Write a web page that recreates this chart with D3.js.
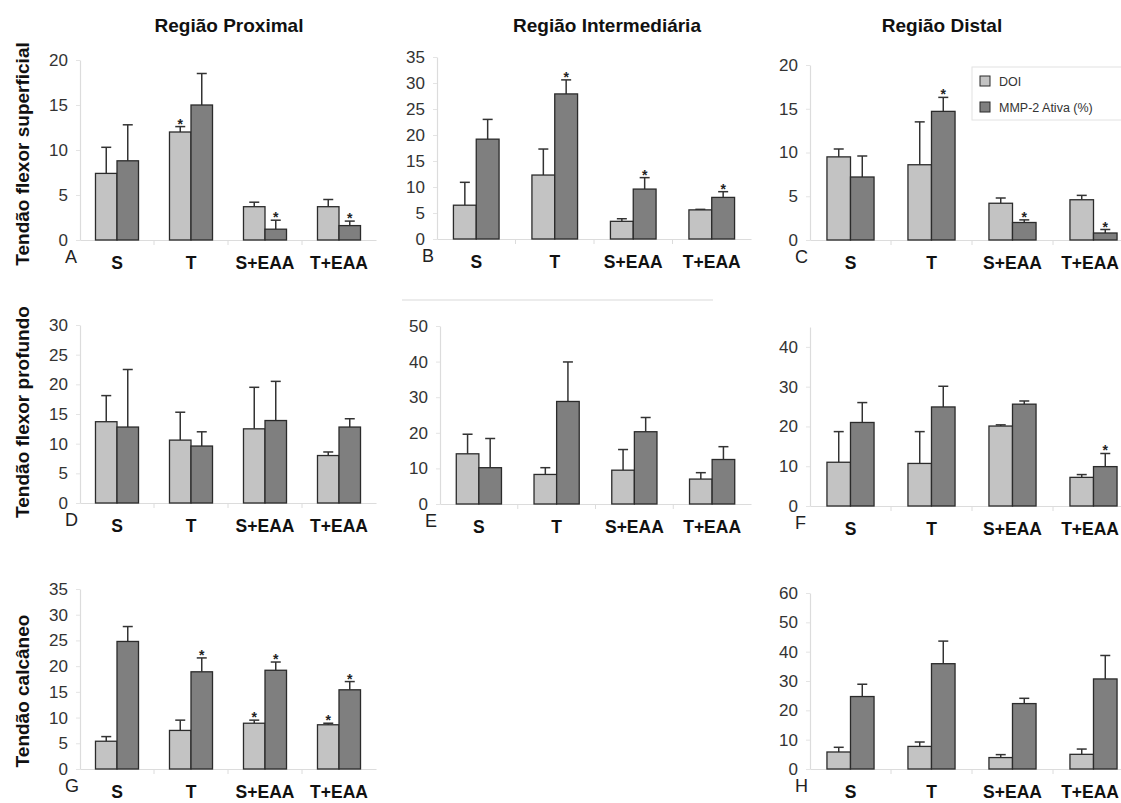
<!DOCTYPE html>
<html>
<head>
<meta charset="utf-8">
<script src="https://cdn.jsdelivr.net/npm/d3@7"></script>
<style>
  body { margin: 0; background: #fff; }
  svg { display: block; font-family: "Liberation Sans", Arial, sans-serif; }
</style>
</head>
<body>
<svg id="chart" width="1121" height="803"></svg>
<script>
const categories = ['S', 'T', 'S+EAA', 'T+EAA'];
const seriesNames = ['DOI', 'MMP-2 Ativa (%)'];

// A - flexor superficial, proximal
const doiA = [7.4, 12.0, 3.7, 3.7];
const doiErrA = [10.3, 12.6, 4.2, 4.5];
const mmpA = [8.8, 15.0, 1.2, 1.6];
const mmpErrA = [12.8, 18.5, 2.2, 2.1];
const starsA = [[0, 0], [1, 0], [0, 1], [0, 1]];

// B - flexor superficial, intermediaria
const doiB = [6.5, 12.3, 3.4, 5.6];
const doiErrB = [10.9, 17.3, 3.9, 5.7];
const mmpB = [19.2, 27.9, 9.6, 8.0];
const mmpErrB = [23.0, 30.6, 11.8, 9.1];
const starsB = [[0, 0], [0, 1], [0, 1], [0, 1]];

// C - flexor superficial, distal
const doiC = [9.5, 8.6, 4.2, 4.6];
const doiErrC = [10.4, 13.5, 4.8, 5.1];
const mmpC = [7.2, 14.7, 2.0, 0.8];
const mmpErrC = [9.6, 16.3, 2.3, 1.2];
const starsC = [[0, 0], [0, 1], [0, 1], [0, 1]];

// D - flexor profundo, proximal
const doiD = [13.7, 10.6, 12.5, 8.0];
const doiErrD = [18.1, 15.3, 19.5, 8.6];
const mmpD = [12.8, 9.6, 13.9, 12.8];
const mmpErrD = [22.5, 12.0, 20.5, 14.2];
const starsD = [[0, 0], [0, 0], [0, 0], [0, 0]];

// E - flexor profundo, intermediaria
const doiE = [14.1, 8.3, 9.5, 7.0];
const doiErrE = [19.6, 10.2, 15.3, 8.8];
const mmpE = [10.2, 28.8, 20.3, 12.5];
const mmpErrE = [18.4, 39.9, 24.3, 16.1];
const starsE = [[0, 0], [0, 0], [0, 0], [0, 0]];

// F - flexor profundo, distal
const doiF = [11.0, 10.7, 20.1, 7.2];
const doiErrF = [18.7, 18.7, 20.4, 7.9];
const mmpF = [21.0, 24.9, 25.6, 9.9];
const mmpErrF = [26.0, 30.1, 26.4, 13.2];
const starsF = [[0, 0], [0, 0], [0, 0], [0, 1]];

// G - calcaneo, proximal
const doiG = [5.4, 7.5, 8.9, 8.6];
const doiErrG = [6.3, 9.5, 9.5, 8.9];
const mmpG = [24.8, 18.9, 19.2, 15.4];
const mmpErrG = [27.7, 21.6, 20.8, 17.0];
const starsG = [[0, 0], [0, 1], [1, 1], [1, 1]];

// H - calcaneo, distal
const doiH = [5.8, 7.7, 3.9, 5.0];
const doiErrH = [7.4, 9.2, 4.9, 6.8];
const mmpH = [24.7, 35.9, 22.3, 30.7];
const mmpErrH = [28.9, 43.6, 24.1, 38.7];
const starsH = [[0, 0], [0, 0], [0, 0], [0, 0]];

const colTitles = ['Região Proximal', 'Região Intermediária', 'Região Distal'];
const rowTitles = ['Tendão flexor superficial', 'Tendão flexor profundo', 'Tendão calcâneo'];

const panels = [
  { id: 'A', doi: doiA, doiErr: doiErrA, mmp: mmpA, mmpErr: mmpErrA, stars: starsA, max: 20, step: 5 },
  { id: 'B', doi: doiB, doiErr: doiErrB, mmp: mmpB, mmpErr: mmpErrB, stars: starsB, max: 35, step: 5 },
  { id: 'C', doi: doiC, doiErr: doiErrC, mmp: mmpC, mmpErr: mmpErrC, stars: starsC, max: 20, step: 5 },
  { id: 'D', doi: doiD, doiErr: doiErrD, mmp: mmpD, mmpErr: mmpErrD, stars: starsD, max: 30, step: 5 },
  { id: 'E', doi: doiE, doiErr: doiErrE, mmp: mmpE, mmpErr: mmpErrE, stars: starsE, max: 50, step: 10 },
  { id: 'F', doi: doiF, doiErr: doiErrF, mmp: mmpF, mmpErr: mmpErrF, stars: starsF, max: 45, step: 10, tickMax: 40 },
  { id: 'G', doi: doiG, doiErr: doiErrG, mmp: mmpG, mmpErr: mmpErrG, stars: starsG, max: 35, step: 5 },
  { id: 'H', doi: doiH, doiErr: doiErrH, mmp: mmpH, mmpErr: mmpErrH, stars: starsH, max: 60, step: 10 }
];

// pixel layout of each panel (axis left, axis right, zero line, top)
const layout = {
  A: { x0: 80, x1: 376, y0: 240, y1: 60 },
  B: { x0: 437, x1: 751, y0: 239, y1: 57 },
  C: { x0: 810, x1: 1134, y0: 240, y1: 65 },
  D: { x0: 80, x1: 376, y0: 503, y1: 325 },
  E: { x0: 440, x1: 751, y0: 504, y1: 326 },
  F: { x0: 810, x1: 1134, y0: 506, y1: 327 },
  G: { x0: 80, x1: 376, y0: 769, y1: 589 },
  H: { x0: 810, x1: 1134, y0: 769, y1: 593 }
};

const colorMap = { doi: '#c3c3c3', mmp: '#7f7f7f' };
const svgWidth = 1121;

const svg = d3.select('#chart');

function renderPanel(p) {
  let L = layout[p.id];
  let g = svg.append('g').attr('class', 'panel panel-' + p.id);

  let x = d3.scaleBand()
    .domain(categories)
    .range([L.x0, L.x1]);

  let xInner = d3.scaleBand()
    .domain(['doi', 'mmp'])
    .range([0, x.bandwidth()])
    .paddingInner(0)
    .paddingOuter(0.72);

  let y = d3.scaleLinear()
    .domain([0, p.max])
    .range([L.y0, L.y1]);

  // Y axis
  let yAxis = d3.axisLeft(y)
    .tickValues(d3.range(0, (p.tickMax || p.max) + 0.1, p.step))
    .tickSize(4)
    .tickPadding(8)
    .tickSizeOuter(0);

  let yg = g.append('g')
    .attr('transform', `translate(${L.x0}, 0)`)
    .call(yAxis);
  yg.select('.domain').attr('stroke', '#dcdcdc').attr('stroke-width', 1.2);
  yg.selectAll('.tick line').attr('stroke', '#e4e4e4');
  yg.selectAll('.tick text')
    .attr('fill', '#333')
    .style('font-size', '17px');

  // X axis
  let xAxis = d3.axisBottom(x)
    .tickSize(0)
    .tickFormat('');
  let xg = g.append('g')
    .attr('transform', `translate(0, ${L.y0})`)
    .call(xAxis);
  xg.select('.domain').attr('stroke', '#dcdcdc').attr('stroke-width', 1.2);

  // category boundary ticks
  xg.selectAll('line.sep')
    .data(categories.slice(1))
    .enter().append('line')
    .attr('class', 'sep')
    .attr('x1', (d) => x(d))
    .attr('x2', (d) => x(d))
    .attr('y1', 0)
    .attr('y2', 5)
    .attr('stroke', '#dcdcdc');

  // category labels, nudged left if they would run off the page
  g.selectAll('text.cat')
    .data(categories)
    .enter().append('text')
    .attr('class', 'cat')
    .attr('x', (d) => x(d) + x.bandwidth() / 2)
    .attr('y', L.y0 + 29)
    .attr('text-anchor', 'middle')
    .attr('fill', '#111')
    .style('font-size', '17.5px')
    .style('font-weight', 'bold')
    .text((d) => d)
    .each(function (d) {
      let half = this.getComputedTextLength() / 2;
      let cx = x(d) + x.bandwidth() / 2;
      if (cx + half > svgWidth - 2) {
        d3.select(this).attr('x', svgWidth - 2 - half);
      }
    });

  // panel letter
  g.append('text')
    .attr('x', L.x0 - 15)
    .attr('y', L.y0 + 23)
    .attr('fill', '#222')
    .style('font-size', '18px')
    .text(p.id);

  let rows = categories.map((c, i) => ({
    cat: c,
    bars: [
      { key: 'doi', v: p.doi[i], e: p.doiErr[i], star: p.stars[i][0] },
      { key: 'mmp', v: p.mmp[i], e: p.mmpErr[i], star: p.stars[i][1] }
    ]
  }));

  let groups = g.selectAll('g.cat-group')
    .data(rows)
    .enter().append('g')
    .attr('class', 'cat-group')
    .attr('transform', (d) => `translate(${x(d.cat)}, 0)`);

  let bars = groups.selectAll('g.bar')
    .data((d) => d.bars)
    .enter().append('g')
    .attr('class', 'bar');

  let cx = (d) => xInner(d.key) + xInner.bandwidth() / 2;

  // error bars (upper only)
  bars.append('line')
    .attr('x1', cx).attr('x2', cx)
    .attr('y1', (d) => y(d.v))
    .attr('y2', (d) => y(d.e))
    .attr('stroke', '#333')
    .attr('stroke-width', 1.5);

  bars.append('line')
    .attr('x1', (d) => cx(d) - 5).attr('x2', (d) => cx(d) + 5)
    .attr('y1', (d) => y(d.e))
    .attr('y2', (d) => y(d.e))
    .attr('stroke', '#333')
    .attr('stroke-width', 1.5);

  bars.append('rect')
    .attr('x', (d) => xInner(d.key))
    .attr('width', xInner.bandwidth())
    .attr('y', (d) => y(d.v))
    .attr('height', (d) => L.y0 - y(d.v))
    .attr('fill', (d) => colorMap[d.key])
    .attr('stroke', '#2b2b2b')
    .attr('stroke-width', 1.3);

  bars.filter((d) => d.star)
    .append('text')
    .attr('x', cx)
    .attr('y', (d) => y(d.e) + 2)
    .attr('text-anchor', 'middle')
    .attr('fill', '#222')
    .style('font-size', '14px')
    .style('font-weight', 'bold')
    .text('*');
}

panels.forEach(renderPanel);

// column titles
const colCenters = [229, 607, 942];
svg.selectAll('text.col-title')
  .data(colTitles)
  .enter().append('text')
  .attr('class', 'col-title')
  .attr('x', (d, i) => colCenters[i])
  .attr('y', 32)
  .attr('text-anchor', 'middle')
  .attr('fill', '#111')
  .style('font-size', '19px')
  .style('font-weight', 'bold')
  .text((d) => d);

// row titles
const rowCenters = [154, 412, 691];
svg.selectAll('text.row-title')
  .data(rowTitles)
  .enter().append('text')
  .attr('class', 'row-title')
  .attr('transform', (d, i) => `translate(29, ${rowCenters[i]}) rotate(-90)`)
  .attr('text-anchor', 'middle')
  .attr('fill', '#111')
  .style('font-size', '19px')
  .style('font-weight', 'bold')
  .text((d) => d);

// faint separator above panel E
svg.append('line')
  .attr('x1', 402).attr('x2', 713)
  .attr('y1', 300).attr('y2', 300)
  .attr('stroke', '#e6e6e6')
  .attr('stroke-width', 1.5);

// legend (panel C)
let legend = svg.append('g').attr('class', 'legend');
legend.append('rect')
  .attr('x', 972).attr('y', 67)
  .attr('width', 160).attr('height', 53)
  .attr('fill', '#fff')
  .attr('stroke', '#e2e2e2');

let items = legend.selectAll('g.item')
  .data(seriesNames)
  .enter().append('g')
  .attr('class', 'item')
  .attr('transform', (d, i) => `translate(980, ${81 + i * 26})`);

items.append('rect')
  .attr('x', 0).attr('y', -5)
  .attr('width', 10).attr('height', 10)
  .attr('fill', (d, i) => i === 0 ? colorMap.doi : colorMap.mmp)
  .attr('stroke', '#2b2b2b');

items.append('text')
  .attr('x', 19)
  .attr('y', 5)
  .attr('fill', '#333')
  .style('font-size', '12.5px')
  .text((d) => d);
</script>
</body>
</html>
